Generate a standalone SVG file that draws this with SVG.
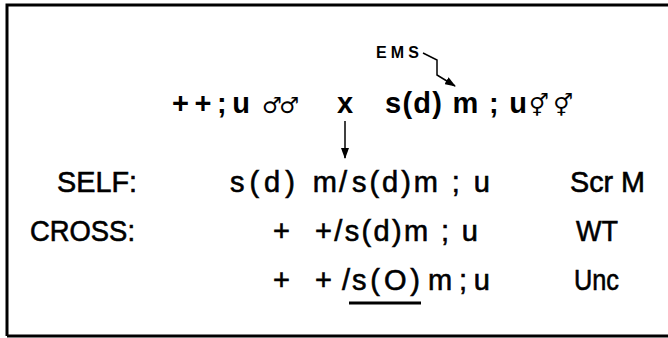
<svg xmlns="http://www.w3.org/2000/svg" width="668" height="338" viewBox="0 0 668 338">
<style>
.t{font-family:"Liberation Sans","DejaVu Sans",Arial,sans-serif;font-size:29px;fill:#000;stroke:#000;stroke-width:0.6}
.h{font-family:"Liberation Sans",Arial,sans-serif;font-size:29px;font-weight:bold;fill:#000}
.s{font-family:"DejaVu Sans",sans-serif;font-size:22px;font-weight:bold;fill:#000}
.b{font-family:"Liberation Sans",Arial,sans-serif;font-size:16px;font-weight:bold;fill:#000}
.ln{stroke:#000;stroke-width:1.5;fill:none}
</style>
<defs>
<marker id="ah" markerWidth="11" markerHeight="8" refX="10" refY="4" orient="auto" markerUnits="userSpaceOnUse">
<path d="M0,0 L11,4 L0,8 Z" fill="#000"/>
</marker>
</defs>
<rect x="0" y="0" width="668" height="338" fill="#fff"/>
<g id="frame">
<path d="M7,336 L7,5 L668,5" stroke="#000" stroke-width="3" fill="none"/>
<path d="M7,336 L668,336" stroke="#000" stroke-width="3" fill="none"/>
</g>
<g id="parents">
<text class="h" x="172" y="113" textLength="78" lengthAdjust="spacing">+ + ; u</text>
<text class="s" x="262" y="113" textLength="37" lengthAdjust="spacing">♂♂</text>
<text class="h" x="337" y="113">x</text>
<text class="h" x="385" y="113" textLength="142" lengthAdjust="spacing">s(d) m ; u</text>
<text class="s" x="529" y="113" textLength="44" lengthAdjust="spacing">⚥⚥</text>
</g>
<g id="ems">
<text class="b" x="376" y="58" textLength="43" lengthAdjust="spacing">EMS</text>
</g>
<g id="connectors">
<path class="ln" d="M423,53 L437,60 L437,75 L455,86" marker-end="url(#ah)"/>
<path class="ln" d="M345,121 L345,158" marker-end="url(#ah)"/>
<line x1="349" y1="303" x2="421" y2="303" stroke="#000" stroke-width="3"/>
</g>
<g id="self">
<text class="t" x="57" y="192" textLength="80" lengthAdjust="spacingAndGlyphs">SELF:</text>
<text class="t" x="230" y="192" textLength="107" lengthAdjust="spacing">s(d) m</text>
<text class="t" x="339" y="192">/</text>
<text class="t" x="352" y="192" textLength="138" lengthAdjust="spacing">s(d)m ; u</text>
<text class="t" x="570" y="192" textLength="75" lengthAdjust="spacingAndGlyphs">Scr M</text>
</g>
<g id="cross">
<text class="t" x="30" y="241" textLength="105" lengthAdjust="spacingAndGlyphs">CROSS:</text>
<text class="t" x="273" y="241">+</text>
<text class="t" x="315" y="241" textLength="163" lengthAdjust="spacing">+/s(d)m ; u</text>
<text class="t" x="576" y="241" textLength="42" lengthAdjust="spacingAndGlyphs">WT</text>
</g>
<g id="cross2">
<text class="t" x="273" y="290">+</text>
<text class="t" x="315" y="290" textLength="35" lengthAdjust="spacing">+/</text>
<text class="t" x="352" y="290" textLength="68" lengthAdjust="spacing">s(O)</text>
<text class="t" x="428" y="290" textLength="62" lengthAdjust="spacing">m ; u</text>
<text class="t" x="574" y="290" textLength="45" lengthAdjust="spacingAndGlyphs">Unc</text>
</g>
</svg>
